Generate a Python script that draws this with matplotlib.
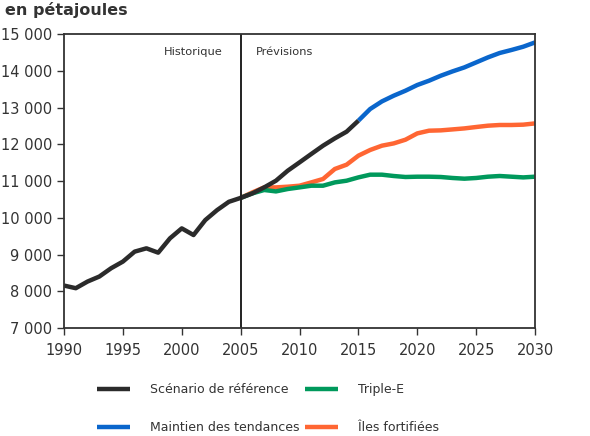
import matplotlib.pyplot as plt

# Scénario de référence (historique + prévision jusqu'à 2015)
ref_years = list(range(1990, 2016))
ref = [8155, 8083, 8264, 8400, 8626, 8807, 9078, 9168, 9050, 9440, 9711, 9530, 9937, 10208, 10434,
       10540, 10663, 10826, 11008, 11280, 11506, 11735, 11961, 12160, 12342, 12641]

proj_years = list(range(2005, 2031))
triple_e = [10540, 10663, 10755, 10717, 10782, 10826, 10872, 10872, 10962, 11008, 11098, 11172, 11172,
            11136, 11109, 11117, 11117, 11109, 11082, 11063, 11082, 11117, 11136, 11117, 11098, 11117]
iles = [10540, 10690, 10826, 10826, 10845, 10872, 10962, 11055, 11327, 11444, 11689, 11844, 11961,
        12023, 12124, 12295, 12369, 12378, 12404, 12431, 12469, 12505, 12524, 12524, 12533, 12567]

blue_years = list(range(2015, 2031))
maintien = [12641, 12959, 13166, 13321, 13457, 13612, 13729, 13865, 13983, 14091, 14227, 14363,
            14483, 14565, 14654, 14771]

x_ticks = list(range(1990, 2031, 5))
y_ticks = [7000, 8000, 9000, 10000, 11000, 12000, 13000, 14000, 15000]
y_labels = ['7 000', '8 000', '9 000', '10 000', '11 000', '12 000', '13 000', '14 000', '15 000']

c_ref = '#2b2b2b'
c_blue = '#0a66cc'
c_green = '#00995c'
c_orange = '#ff6633'
txt = '#333333'

fig = plt.figure(figsize=(5.9, 4.36), dpi=100)
ax = fig.add_axes([64 / 590, 1 - 328 / 436, (535 - 64) / 590, (328 - 34) / 436])

lw = 3.2
l_blue, = ax.plot(blue_years, maintien, color=c_blue, lw=lw, solid_capstyle='butt', label='Maintien des tendances')
l_orange, = ax.plot(proj_years, iles, color=c_orange, lw=lw, solid_capstyle='butt', label='Îles fortifiées')
l_green, = ax.plot(proj_years, triple_e, color=c_green, lw=lw, solid_capstyle='butt', label='Triple-E')
l_ref, = ax.plot(ref_years, ref, color=c_ref, lw=lw, solid_capstyle='butt', label='Scénario de référence')

ax.axvline(2005, color='#222222', lw=1.4)
ax.text(2003.5, 14500, 'Historique', ha='right', va='center', fontsize=8.2, color=txt)
ax.text(2006.3, 14500, 'Prévisions', ha='left', va='center', fontsize=8.2, color=txt)

ax.set_xlim(1990, 2030)
ax.set_ylim(7000, 15000)
ax.set_xticks(x_ticks)
ax.set_yticks(y_ticks)
ax.set_yticklabels(y_labels)
ax.tick_params(colors=txt, labelsize=10.5, length=5, width=1, direction='out')
ax.tick_params(axis='x', pad=6)
for s in ax.spines.values():
    s.set_color('#333333')
    s.set_linewidth(1.3)

fig.text(5 / 590, 1 - 10 / 436, 'en pétajoules', fontsize=11.5, fontweight='bold', color=txt,
         ha='left', va='center')

fig.legend([l_ref, l_blue, l_green, l_orange],
           ['Scénario de référence', 'Maintien des tendances', 'Triple-E', 'Îles fortifiées'],
           ncol=2, frameon=False, loc='upper left', bbox_to_anchor=(97 / 590, 1 - 383 / 436),
           borderpad=0, borderaxespad=0,
           fontsize=9, handlelength=2.6, handletextpad=1.6, columnspacing=0.5, labelspacing=2.0,
           labelcolor=txt)

fig.savefig('out.png', dpi=100)
